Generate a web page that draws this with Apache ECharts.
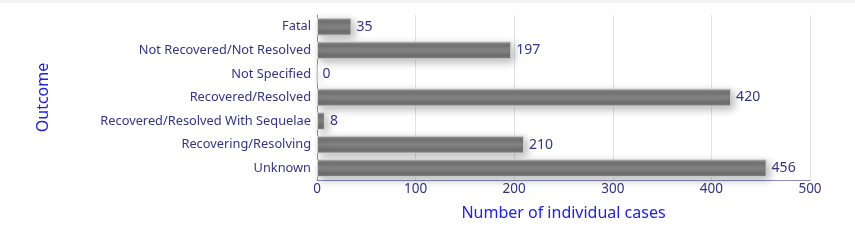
<!DOCTYPE html>
<html><head><meta charset="utf-8">
<script src="https://cdn.jsdelivr.net/npm/echarts@6/dist/echarts.min.js"></script>
<style>html,body{margin:0;padding:0;background:#fff}#c{width:855px;height:240px}</style>
</head><body><div id="c"></div>
<script>
const categories = ["Fatal","Not Recovered/Not Resolved","Not Specified","Recovered/Resolved","Recovered/Resolved With Sequelae","Recovering/Resolving","Unknown"];
const values = [35,197,0,420,8,210,456];
const xTicks = {min:0,max:500,interval:100};
const chart = echarts.init(document.getElementById('c'));
const font = "Noto Sans";
chart.setOption({
  animation:false,
  graphic:[{type:'rect',shape:{x:0,y:0,width:855,height:3},style:{fill:'#f4f4f6'}}],
  grid:{left:317,right:45,top:15,bottom:60},
  xAxis:{type:'value',min:xTicks.min,max:xTicks.max,interval:xTicks.interval,
    name:'Number of individual cases',nameLocation:'middle',nameGap:25,
    nameTextStyle:{color:'#2020ee',fontSize:16,fontFamily:font},
    axisLine:{show:true,lineStyle:{color:'#8a8db8'}},axisTick:{show:false},
    axisLabel:{color:'#333388',fontSize:13.5,fontFamily:font,margin:2},
    splitLine:{lineStyle:{color:'#e2e2ea'}}},
  yAxis:{type:'category',data:categories,inverse:true,
    name:'Outcome',nameLocation:'middle',nameGap:266,nameRotate:90,
    nameTextStyle:{color:'#2020ee',fontSize:16,fontFamily:font},
    axisLine:{show:true,lineStyle:{color:'#8a8db8'}},axisTick:{show:false},
    axisLabel:{color:'#333388',fontSize:12.8,fontFamily:font,margin:6},
    splitLine:{show:false}},
  series:[{type:'bar',data:values,barWidth:'76%',
    itemStyle:{color:new echarts.graphic.LinearGradient(0,0,0,1,[
      {offset:0,color:'#a0a0a0'},{offset:0.2,color:'#727272'},{offset:0.5,color:'#858585'},{offset:0.8,color:'#6c6c6c'},{offset:1,color:'#8a8a8a'}]),
      borderColor:'#d4d4d4',borderWidth:1,shadowColor:'rgba(0,0,0,0.28)',shadowBlur:8,shadowOffsetX:3,shadowOffsetY:3},
    label:{show:true,position:'right',distance:5,color:'#333388',fontSize:14,fontFamily:font}}]
});
</script></body></html>
